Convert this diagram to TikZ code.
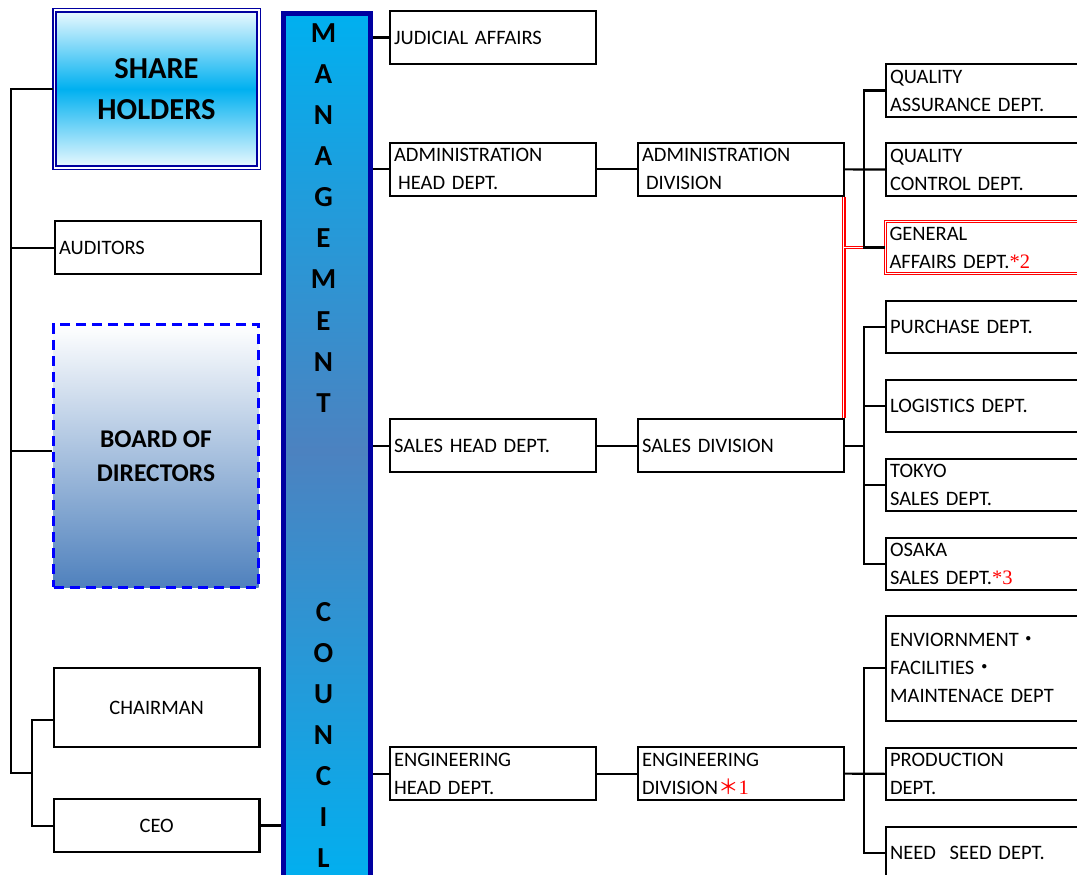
\documentclass[tikz,border=0pt]{standalone}
\usepackage{fontspec}
\setmainfont{Carlito}
\newfontfamily\serifnum{Liberation Serif}
\newfontfamily\cjk{Noto Sans CJK JP}
\definecolor{cyanc}{RGB}{0,176,240}
\definecolor{steel}{RGB}{79,129,189}
\definecolor{barmid}{RGB}{76,130,192}
\definecolor{dkblue}{RGB}{0,0,160}
\definecolor{shtop}{RGB}{236,250,255}
\definecolor{notered}{RGB}{255,0,0}
\newcommand{\notemark}[1]{{\serifnum\color{notered}*#1}}
\begin{document}
\begin{tikzpicture}[x=1pt,y=-1pt,
  ln/.style={line width=2.2pt, draw=black},
  redline/.style={draw=notered, double=white, double distance=1.5pt, line width=1.1pt},
  bx/.style={draw=black, line width=2.2pt, fill=white, anchor=north west, inner xsep=4pt, inner ysep=0pt, align=left, font=\fontsize{20.5}{28}\selectfont},
  mbox/.style={bx, text width=198pt, minimum height=#1},
  rbox/.style={bx, text width=200pt, minimum height=#1},
  letter/.style={font=\fontsize{29}{29}\selectfont\bfseries, text height=18.7pt, text depth=0pt, inner sep=0pt}
]
\useasboundingbox (0,0) rectangle (1077,875);
\clip (0,0) rectangle (1077,875);

% left column
\node[draw=dkblue, double=white, double distance=1.5pt, line width=1.7pt,
      top color=shtop, bottom color=shtop, middle color=cyanc,
      minimum width=204.5pt, minimum height=157.5pt, inner sep=0pt, align=center,
      font=\fontsize{30.5}{41}\selectfont\bfseries] (sh) at (156.5,89) {SHARE\\HOLDERS};
\node[bx, text width=197.5pt, minimum height=53pt] (aud) at (54,220) {AUDITORS};
\node[draw=blue, line width=3.3pt, dash pattern=on 10pt off 6pt,
      top color=white, bottom color=steel,
      minimum width=205pt, minimum height=262.5pt, inner sep=0pt, align=center,
      font=\fontsize{25.5}{34}\selectfont\bfseries] (bod) at (156,456) {BOARD OF\\DIRECTORS};
\node[bx, anchor=center, align=center, text width=197.5pt, minimum height=79pt] (chair) at (156.7,707.5) {CHAIRMAN};
\node[bx, anchor=center, align=center, text width=197.5pt, minimum height=53pt] (ceo) at (156.7,825.5) {CEO};

% management council bar
\node[draw=dkblue, line width=5pt, top color=cyanc, bottom color=cyanc, middle color=barmid,
      minimum width=86.7pt, minimum height=875pt, inner sep=0pt, anchor=north west] (mc) at (281,10.8) {};
\foreach \c [count=\i from 0] in {M,A,N,A,G,E,M,E,N,T}
  \node[letter] (m\i) at (323.5,{33+41.1*\i}) {\c};
\foreach \c [count=\i from 0] in {C,O,U,N,C,I,L}
  \node[letter] (c\i) at (323.5,{611.7+41.1*\i}) {\c};

% head departments
\node[mbox=53pt] (jud) at (389,10) {JUDICIAL AFFAIRS};
\node[mbox=52.5pt] (admhd) at (389,142) {ADMINISTRATION\\\hspace*{4pt}HEAD DEPT.};
\node[mbox=53pt] (saleshd) at (389,418) {SALES HEAD DEPT.};
\node[mbox=53pt] (enghd) at (389,746) {ENGINEERING\\HEAD DEPT.};

% divisions
\node[mbox=52.5pt] (admdiv) at (637,142) {ADMINISTRATION\\\hspace*{4pt}DIVISION};
\node[mbox=53pt] (salesdiv) at (637,418) {SALES DIVISION};
\node[mbox=53pt] (engdiv) at (637,746) {ENGINEERING\\DIVISION{\cjk\color{notered}＊}{\serifnum\color{notered}1}};

% departments
\node[rbox=53pt] (qa) at (885,63) {QUALITY\\ASSURANCE DEPT.};
\node[rbox=53pt] (qc) at (885,142) {QUALITY\\CONTROL DEPT.};
\node[rbox=52pt, draw=notered, double=white, double distance=1.5pt, line width=1.1pt] (ga) at (885,221) {GENERAL\\AFFAIRS DEPT.\notemark{2}};
\node[rbox=52.5pt] (pur) at (885,299.5) {PURCHASE DEPT.};
\node[rbox=52.5pt] (logi) at (885,378.5) {LOGISTICS DEPT.};
\node[rbox=52.5pt] (tok) at (885,457.5) {TOKYO\\SALES DEPT.};
\node[rbox=52.5pt] (osa) at (885,536.5) {OSAKA\\SALES DEPT.\notemark{3}};
\node[rbox=104.5pt] (env) at (885,615) {ENVIORNMENT{\cjk ・}\\FACILITIES{\cjk ・}\\MAINTENACE DEPT};
\node[rbox=52.5pt] (prod) at (885,746.5) {PRODUCTION\\DEPT.};
\node[rbox=53pt] (need) at (885,825.5) {NEED\ \ SEED DEPT.};

% coordinates
\coordinate (sx) at (11,0);
\coordinate (sbot) at (11,773);
\coordinate (brk) at (32,773);
\coordinate (chT) at (32,720);
\coordinate (chB) at (32,826);
\coordinate (bodc) at (11,451);
\coordinate (bxc) at (864,0);
\coordinate (rtop) at ([xshift=-1.5pt]admdiv.south east);
\coordinate (rbot) at ([xshift=-1.5pt]salesdiv.north east);

% left connectors
\draw[ln] (sh.west) -- (sh.west -| sx) -- (sbot) -- (brk);
\draw[ln] (aud.west -| sx) -- (aud.west);
\draw[ln] (bodc) -- (bodc -| bod.west);
\draw[ln] (chair.west |- chT) -- (chT) -- (chB) -- (ceo.west |- chB);
\draw[ln] (ceo.east) -- (ceo.east -| mc.west);

% bar to head departments
\draw[ln] (jud.west -| mc.east) -- (jud.west);
\draw[ln] (admhd.west -| mc.east) -- (admhd.west);
\draw[ln] (saleshd.west -| mc.east) -- (saleshd.west);
\draw[ln] (enghd.west -| mc.east) -- (enghd.west);

% head to division
\draw[ln] (admhd.east) -- (admdiv.west);
\draw[ln] (saleshd.east) -- (salesdiv.west);
\draw[ln] (enghd.east) -- (engdiv.west);

% red double link
\draw[redline] (rtop) -- (rbot);
\draw[redline] (rtop |- ga.west) -- (ga.west -| bxc);

% division to departments
\draw[ln] (admdiv.east) -- (qc.west);
\draw[ln] (qa.west) -- (qa.west -| bxc) -- (ga.west -| bxc) -- (ga.west);
\draw[ln] (salesdiv.east) -- (salesdiv.east -| bxc);
\draw[ln] (pur.west) -- (pur.west -| bxc) -- (osa.west -| bxc) -- (osa.west);
\draw[ln] (logi.west -| bxc) -- (logi.west);
\draw[ln] (tok.west -| bxc) -- (tok.west);
\draw[ln] (engdiv.east) -- (prod.west);
\draw[ln] (env.west) -- (env.west -| bxc) -- (need.west -| bxc) -- (need.west);
\end{tikzpicture}
\end{document}
